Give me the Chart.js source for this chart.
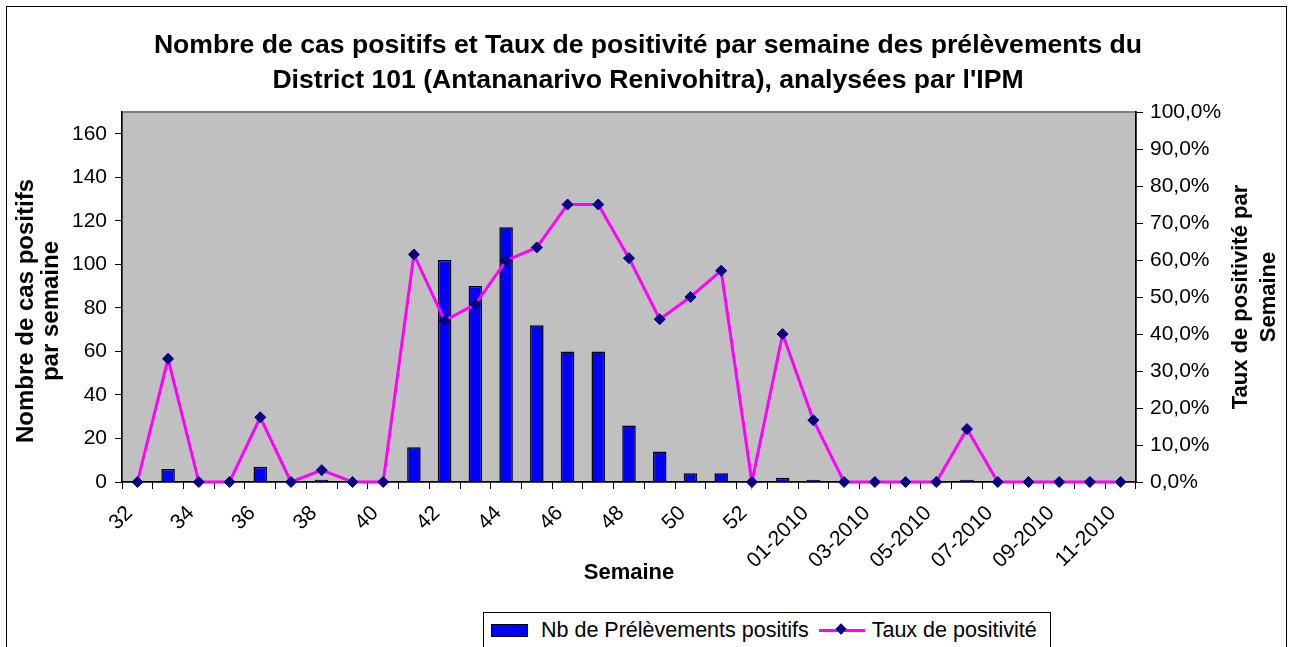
<!DOCTYPE html>
<html><head><meta charset="utf-8">
<script src="https://cdn.jsdelivr.net/npm/chart.js@4"></script>
<style>
html,body{margin:0;padding:0;background:#fff;overflow:hidden;}
#wrap{position:relative;width:1296px;height:647px;overflow:hidden;background:#fff;}
#frame{position:absolute;left:6px;top:6px;width:1281px;height:700px;border:1px solid #000;box-sizing:border-box;}
canvas{position:absolute;left:0;top:0;}
#legend{position:absolute;left:483px;top:612px;width:568px;border:1px solid #000;box-sizing:border-box;background:#fff;
 font-family:"Liberation Sans",Arial,sans-serif;font-size:21.5px;color:#000;display:flex;align-items:center;height:36px;padding-left:7px;white-space:nowrap;}
#legend .sw{display:inline-block;width:35px;height:11px;background:#0000FF;border:1px solid #000;margin-right:13px;}
#legend .ln{position:relative;display:inline-block;width:46px;height:12px;margin-left:10px;margin-right:7px;}
#legend .ln:before{content:"";position:absolute;left:0;right:0;top:5px;height:3px;background:#FF00FF;}
#legend .ln:after{content:"";position:absolute;left:18px;top:1px;width:8px;height:8px;background:#000080;transform:rotate(45deg);}
</style></head>
<body>
<div id="wrap">
  <div id="frame"></div>
  <canvas id="c" width="1296" height="647"></canvas>
  <div id="legend"></div>
</div>
<script>
const titleLines = ["Nombre de cas positifs et Taux de positivité par semaine des prélèvements du",
                    "District 101 (Antananarivo Renivohitra), analysées par l'IPM"];
const weeks = ['32','33','34','35','36','37','38','39','40','41','42','43','44','45','46','47','48','49','50','51','52','53',
               '01-2010','02-2010','03-2010','04-2010','05-2010','06-2010','07-2010','08-2010','09-2010','10-2010','11-2010'];
const positifs = [0,6,0,0,7,0,1,0,0,16,102,90,117,72,60,60,26,14,4,4,0,2,1,0,0,0,0,1,0,0,0,0,0];
const taux = [0,33.3,0,0,17.5,0,3.2,0,0,61.5,43.6,48.0,59.8,63.4,75.0,75.0,60.5,44.0,50.0,57.1,0,40.0,16.7,0,0,0,0,14.3,0,0,0,0,0];
const leftAxisTitle = ['Nombre de cas positifs','par semaine'];
const rightAxisTitle = ['Taux de positivité par','Semaine'];
const xAxisTitle = 'Semaine';
const seriesNames = ['Nb de Prélèvements positifs','Taux de positivité'];

const FONT = '"Liberation Sans", Arial, sans-serif';
Chart.defaults.font.family = FONT;
Chart.defaults.color = '#000';

const bgPlugin = {
  id:'bg',
  beforeDraw(chart){
    const {ctx, chartArea:a} = chart;
    ctx.save();
    ctx.fillStyle = '#C0C0C0';
    ctx.fillRect(a.left, a.top, a.right-a.left, a.bottom-a.top);
    ctx.strokeStyle = '#808080';
    ctx.lineWidth = 2;
    ctx.strokeRect(a.left, a.top, a.right-a.left, a.bottom-a.top);
    ctx.restore();
  }
};
function drawVertical(ctx, lines, xs, cy, size){
  ctx.save();
  ctx.font = 'bold ' + size + 'px ' + FONT;
  ctx.fillStyle = '#000';
  ctx.textAlign = 'center';
  ctx.textBaseline = 'middle';
  lines.forEach((t,i)=>{
    ctx.save();
    ctx.translate(xs[i], cy);
    ctx.rotate(-Math.PI/2);
    ctx.fillText(t, 0, 0);
    ctx.restore();
  });
  ctx.restore();
}
const axisTitles = {
  id:'vtitles',
  afterDraw(chart){
    const {ctx, chartArea:a} = chart;
    const cy = (a.top+a.bottom)/2;
    drawVertical(ctx, leftAxisTitle, [26, 51], cy + 14, 24);
    drawVertical(ctx, rightAxisTitle, [1241, 1269], cy, 22);
  }
};

new Chart(document.getElementById('c'), {
  type:'bar',
  data:{
    labels: weeks,
    datasets:[
      {type:'line', label:seriesNames[1], data:taux, yAxisID:'y2', borderColor:'#FF00FF', borderWidth:3,
       pointStyle:'rectRot', pointRadius:5.5, pointHoverRadius:5.5, pointBackgroundColor:'#000080', pointBorderColor:'#000080',
       pointBorderWidth:1, tension:0, order:1, clip:false},
      {type:'bar', label:seriesNames[0], data:positifs, yAxisID:'y', backgroundColor:'#0000FF', borderColor:'#000', borderWidth:1.5,
       barPercentage:0.44, categoryPercentage:1, order:2}
    ]
  },
  options:{
    responsive:false, animation:false, devicePixelRatio:1,
    layout:{padding:0},
    plugins:{
      legend:{display:false}, tooltip:{enabled:false},
      title:{display:true, text:titleLines, color:'#000', font:{size:26.6, weight:'bold', lineHeight:'35px'}, padding:{top:28, bottom:14}}
    },
    scales:{
      x:{
        offset:true,
        grid:{offset:true, drawOnChartArea:false, tickLength:7, tickColor:'#000'},
        border:{color:'#000', width:1.5},
        ticks:{autoSkip:false, minRotation:45, maxRotation:45, font:{size:21}, padding:12, labelOffset:-8,
               callback:(v,i)=> i%2===0 ? weeks[i] : ''},
        title:{display:true, text:xAxisTitle, font:{size:22, weight:'bold'}, padding:{top:0,bottom:61}},
        afterFit:s=>{s.height=165;}
      },
      y:{
        position:'left', min:0, max:170,
        grid:{drawOnChartArea:false, tickLength:7, tickColor:'#000'},
        border:{color:'#000', width:1.5},
        ticks:{stepSize:20, includeBounds:false, font:{size:21}, padding:8},
        afterFit:s=>{s.width=122;}
      },
      y2:{
        position:'right', min:0, max:100,
        grid:{drawOnChartArea:false, tickLength:7, tickColor:'#000'},
        border:{color:'#000', width:1.5},
        ticks:{stepSize:10, includeBounds:false, font:{size:21}, padding:7,
               callback:v=>v.toFixed(1).replace('.',',')+'%'},
        afterFit:s=>{s.width=160;}
      }
    }
  },
  plugins:[bgPlugin, axisTitles]
});

document.getElementById('legend').innerHTML =
  '<span class="sw"></span><span>'+seriesNames[0]+'</span><span class="ln"></span><span>'+seriesNames[1]+'</span>';
</script>
</body></html>
